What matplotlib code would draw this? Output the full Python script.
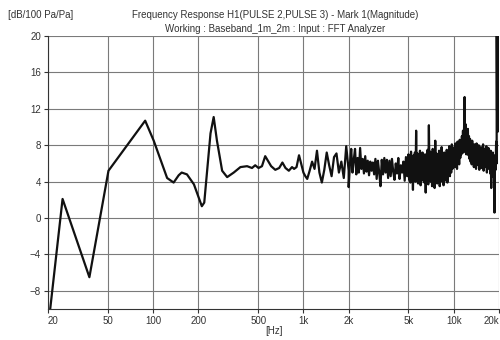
import numpy as np
import matplotlib.pyplot as plt

plt.rcParams['font.family'] = ['Liberation Sans', 'DejaVu Sans']

# smooth low-frequency part of H1, read point by point
freq_lo = [20.3, 25.0, 37.7, 50.5, 88.6, 101, 124, 137, 148, 155, 168, 187,
           211, 219, 241, 253, 266, 288, 311, 344, 381, 422, 455, 478, 503,
           530, 557, 585, 610, 650, 690, 725, 760, 800, 840, 867, 900, 935,
           965, 1000, 1030]
mag_lo = [-11.2, 2.1, -6.5, 5.2, 10.7, 8.5, 4.4, 3.9, 4.7, 5.0, 4.8, 3.7,
          1.3, 1.7, 9.3, 11.1, 8.5, 5.2, 4.5, 5.0, 5.6, 5.7, 5.5, 5.8, 5.5,
          5.7, 6.8, 6.2, 5.7, 5.3, 5.5, 6.1, 5.5, 5.2, 5.6, 5.4, 5.6, 6.9,
          6.0, 5.0, 4.6]

# noisy upper bands: (start Hz, stop Hz, magnitudes)
mag_1k_2k = [4.3, 5.2, 6.2, 5.4, 7.4, 5.0, 3.9, 5.3, 7.2, 5.8, 4.6, 6.7,
             7.1, 5.0, 6.2, 4.4, 7.9, 5.2]
mag_2k_5k = [3.4, 5.9, 7.6, 5.0, 6.4, 7.6, 4.8, 6.6, 5.0, 7.7, 5.4, 6.5,
             4.9, 6.8, 5.1, 6.3, 4.7, 6.2, 5.2, 6.1, 4.8, 6.5, 4.3, 6.3,
             5.0, 3.5, 6.4, 4.8, 6.6, 5.0, 6.4, 4.4, 6.3, 4.6, 6.5, 5.1,
             4.2, 6.0, 4.9, 6.6, 4.3, 5.8, 5.0, 6.2, 4.1, 6.7, 4.6, 6.1]
mag_5k_10k = [7.0, 4.2, 6.8, 3.9, 7.3, 4.5, 6.1, 3.1, 6.9, 4.8, 7.2, 4.0,
              9.6, 4.6, 7.1, 3.8, 6.5, 4.4, 7.4, 3.6, 6.8, 5.0, 7.2, 4.1,
              6.3, 3.9, 7.0, 2.8, 6.6, 4.5, 7.5, 3.7, 10.2, 4.3, 7.3, 4.0,
              6.9, 3.5, 7.6, 4.7, 6.4, 3.3, 8.5, 4.2, 7.1, 3.8, 6.7, 4.9,
              7.4, 3.5, 6.9, 4.4, 7.8, 4.0, 6.5, 3.6, 7.2, 4.8, 6.8, 4.1,
              7.5, 3.9, 6.6, 5.2, 7.9, 4.6, 7.3, 5.0, 8.1, 5.4, 7.6, 5.8]
mag_10k_19k = [6.0, 7.8, 5.6, 8.2, 6.1, 7.6, 5.4, 8.4, 6.3, 7.9, 5.9, 8.6,
               6.6, 8.1, 7.0, 9.0, 7.4, 9.6, 7.2, 9.9, 13.3, 7.6, 10.3, 7.0,
               9.4, 7.3, 9.8, 6.9, 9.0, 6.5, 8.7, 6.2, 8.3, 5.9, 8.5, 6.3,
               7.9, 5.6, 8.1, 6.0, 7.7, 5.4, 8.2, 6.1, 7.6, 5.8, 8.0, 5.3,
               7.5, 6.2, 7.8, 5.5, 7.4, 6.0, 8.1, 5.2, 7.6, 5.9, 7.3, 5.6,
               7.9, 5.0, 7.2, 5.7, 7.7, 5.4, 7.0, 4.9, 7.4, 3.3, 6.8, 5.1,
               7.2, 4.5, 6.9, 0.6, 6.6, 5.3, 8.4, 6.0]
mag_top = [24.0, 11.8, 24.0, 9.5, 24.0, 12.5, 24.0]

bands = [(1060, 2000, mag_1k_2k), (2000, 5000, mag_2k_5k),
         (5000, 10000, mag_5k_10k), (10000, 19300, mag_10k_19k),
         (19300, 20000, mag_top)]

freq = list(freq_lo)
mag = list(mag_lo)
for f0, f1, vals in bands:
    freq += list(np.geomspace(f0, f1, len(vals)))
    mag += vals

xticks = [20, 50, 100, 200, 500, 1000, 2000, 5000, 10000, 20000]
xlabels = ['20', '50', '100', '200', '500', '1k', '2k', '5k', '10k', '20k']
yticks = [-8, -4, 0, 4, 8, 12, 16, 20]

fig = plt.figure(figsize=(5, 3.4), dpi=100)
ax = fig.add_axes([0.096, 0.091, 0.902, 0.803])
ax.semilogx(freq, mag, color='#111111', lw=1.6)
ax.set_xlim(20, 20000)
ax.set_ylim(-10, 20)
ax.set_xticks(xticks)
ax.set_xticklabels(xlabels)
ax.xaxis.set_minor_locator(plt.NullLocator())
ax.set_yticks(yticks)
ax.tick_params(labelsize=7, length=3, width=0.8, color='#333333',
               labelcolor='#333333', pad=2)
tl = ax.get_xticklabels()
tl[0].set_ha('left')
tl[-1].set_ha('right')
ax.grid(True, color='#7a7a7a', lw=0.8)
for s in ['top', 'right']:
    ax.spines[s].set_visible(False)
for s in ['left', 'bottom']:
    ax.spines[s].set_color('#333333')
ax.set_xlabel('[Hz]', fontsize=7, color='#333333', labelpad=0)

fig.text(0.016, 0.955, '[dB/100 Pa/Pa]', fontsize=7, color='#333333',
         va='center')
fig.text(0.55, 0.955,
         'Frequency Response H1(PULSE 2,PULSE 3) - Mark 1(Magnitude)',
         fontsize=7, color='#333333', ha='center', va='center')
fig.text(0.55, 0.915, 'Working : Baseband_1m_2m : Input : FFT Analyzer',
         fontsize=7, color='#333333', ha='center', va='center')

fig.savefig('out.png', dpi=100)
